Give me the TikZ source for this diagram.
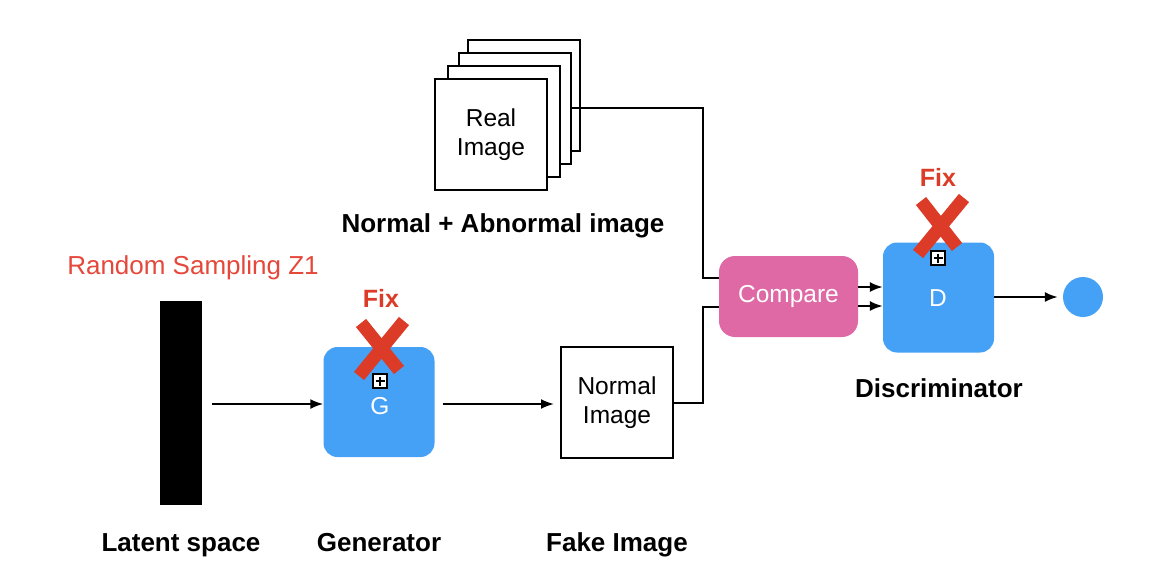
\documentclass[tikz,border=0pt]{standalone}
\usepackage{fontspec}
\setmainfont{Liberation Sans}
\usetikzlibrary{arrows.meta,calc}
\definecolor{gblue}{HTML}{45A1F6}
\definecolor{cpink}{HTML}{DE69A5}
\definecolor{fixred}{HTML}{DC3B27}
\definecolor{rsred}{HTML}{E5473A}
\begin{document}
\begin{tikzpicture}[x=1pt,y=-1pt,
  imgbox/.style={draw=black,line width=2pt,fill=white,minimum width=112pt,minimum height=111pt,inner sep=0pt,align=center,font=\fontsize{24.5}{29}\selectfont},
  netbox/.style={fill=gblue,rounded corners=14pt,minimum width=111pt,minimum height=110pt,inner sep=0pt,text=white,font=\fontsize{24.5}{29}\selectfont},
  cmpbox/.style={fill=cpink,rounded corners=16pt,minimum width=139pt,minimum height=81pt,inner sep=0pt,text=white,font=\fontsize{24.5}{29}\selectfont},
  lbl/.style={font=\bfseries\fontsize{26}{30}\selectfont,inner sep=0pt,anchor=base},
  fixlbl/.style={font=\bfseries\fontsize{25}{30}\selectfont,text=fixred,inner sep=0pt},
  conn/.style={line width=2pt},
  arr/.style={line width=2pt,-{Latex[length=13pt,width=10pt]}},
  cross/.style={draw=fixred,line width=13pt,line cap=butt},
  pbox/.style={draw=black,line width=1.4pt,fill=white,minimum size=14pt,inner sep=0pt}
]
\useasboundingbox (0,0) rectangle (1151,574);

% real image stack
\node[imgbox,anchor=north west] (r4) at (467,39) {};
\node[imgbox,anchor=north west] (r3) at (458,52) {};
\node[imgbox,anchor=north west] (r2) at (447,65) {};
\node[imgbox,anchor=north west] (r1) at (434,78) {Real\\Image};
\node[lbl] (nalbl) at (503,232) {Normal + Abnormal image};

% latent
\node[fill=black,minimum width=42pt,minimum height=204pt,inner sep=0pt] (bar) at (181,403) {};
\node[inner sep=0pt,text=rsred,font=\fontsize{26}{30}\selectfont] (rs) at (193,268) {Random Sampling Z1};
\node[lbl] (lat) at (181,551) {Latent space};

% generator
\node[netbox] (G) at (379,402) {};
\node[text=white,font=\fontsize{24.5}{29}\selectfont,inner sep=0pt] (Glbl) at (380,406) {G};
\node[lbl] (genl) at (379,551) {Generator};

% fake image
\node[imgbox] (fake) at (617,402.5) {Normal\\Image};
\node[lbl] (fakel) at (617,551) {Fake Image};

% compare
\node[cmpbox] (cmp) at (788.5,296.5) {Compare};

% discriminator
\node[netbox] (D) at (938.5,297.5) {};
\node[text=white,font=\fontsize{24.5}{29}\selectfont,inner sep=0pt] (Dlbl) at (938,298) {D};
\node[lbl] (discl) at (939,397) {Discriminator};

% output
\node[circle,fill=gblue,minimum size=40pt,inner sep=0pt] (out) at (1083,297) {};

% fix marks on G
\node[fixlbl] (fixG) at (381,298) {Fix};
\coordinate (xg) at (381,348);
\draw[cross] ($(xg)+(-20,-25)$) -- ($(xg)+(18,22)$);
\draw[cross] ($(xg)+(23,-27)$) -- ($(xg)+(-22,28)$);
\node[pbox] (pG) at (380,381) {};
\draw[line width=1.4pt] ($(pG.center)+(-4.5,0)$) -- ($(pG.center)+(4.5,0)$) ($(pG.center)+(0,-4.5)$) -- ($(pG.center)+(0,4.5)$);

% fix marks on D
\node[fixlbl] (fixD) at (938,177) {Fix};
\coordinate (xd) at (940,225);
\draw[cross] ($(xd)+(-19,-24)$) -- ($(xd)+(17,22)$);
\draw[cross] ($(xd)+(24,-27)$) -- ($(xd)+(-22,29)$);
\node[pbox] (pD) at (938,258) {};
\draw[line width=1.4pt] ($(pD.center)+(-4.5,0)$) -- ($(pD.center)+(4.5,0)$) ($(pD.center)+(0,-4.5)$) -- ($(pD.center)+(0,4.5)$);

% connectors
\coordinate (j1) at (703,108);
\coordinate (j2) at (703,403);
\draw[conn] (r3.east |- j1) -- (j1) -- (j1 |- 0,278) -- (cmp.west |- 0,278);
\draw[conn] (fake.east |- j2) -- (j2) -- (j2 |- 0,307) -- (cmp.west |- 0,307);
\draw[arr] ([xshift=10pt]bar.east |- 0,404) -- (G.west |- 0,404);
\draw[arr] ([xshift=8pt]G.east |- 0,404) -- ([xshift=-6pt]fake.west |- 0,404);
\draw[arr] (cmp.east |- 0,287) -- (D.west |- 0,287);
\draw[arr] (cmp.east |- 0,306) -- (D.west |- 0,306);
\draw[arr] (D.east |- out) -- ([xshift=-5pt]out.west);
\end{tikzpicture}
\end{document}
